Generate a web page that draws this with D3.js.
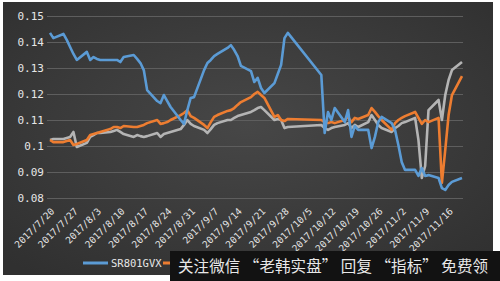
<!DOCTYPE html>
<html><head><meta charset="utf-8">
<script src="https://cdn.jsdelivr.net/npm/d3@7"></script>
<style>html,body{margin:0;padding:0;background:#fff;}svg{display:block;}</style>
</head><body>
<script>
const dates = ["2017-07-20","2017-07-21","2017-07-24","2017-07-25","2017-07-26","2017-07-27","2017-07-28","2017-07-31",
"2017-08-01","2017-08-02","2017-08-03","2017-08-04","2017-08-07","2017-08-08","2017-08-09","2017-08-10","2017-08-11",
"2017-08-14","2017-08-15","2017-08-16","2017-08-17","2017-08-18","2017-08-21","2017-08-22","2017-08-23","2017-08-24","2017-08-25",
"2017-08-28","2017-08-29","2017-08-30","2017-08-31","2017-09-01","2017-09-04","2017-09-05","2017-09-06","2017-09-07","2017-09-08",
"2017-09-11","2017-09-12","2017-09-13","2017-09-14","2017-09-15","2017-09-18","2017-09-19","2017-09-20","2017-09-21","2017-09-22",
"2017-09-25","2017-09-26","2017-09-27","2017-09-28","2017-09-29","2017-10-09","2017-10-10","2017-10-11","2017-10-12","2017-10-13",
"2017-10-16","2017-10-17","2017-10-18","2017-10-19","2017-10-20","2017-10-23","2017-10-24","2017-10-25","2017-10-26","2017-10-27",
"2017-10-30","2017-10-31","2017-11-01","2017-11-02","2017-11-03","2017-11-06","2017-11-07","2017-11-08","2017-11-09","2017-11-10",
"2017-11-13","2017-11-14","2017-11-15","2017-11-16","2017-11-17","2017-11-20"];

const seriesBlue = [0.1435,0.1415,0.1431,0.1408,0.1381,0.1354,0.1331,0.1362,
0.1331,0.1342,0.1335,0.1331,0.1331,0.1331,0.1331,0.1323,0.1342,
0.1350,0.1335,0.1319,0.1292,0.1215,0.1173,0.1165,0.1196,0.1173,0.1150,
0.1100,0.1085,0.1138,0.1185,0.1188,0.1292,0.1319,0.1331,0.1346,0.1354,
0.1377,0.1388,0.1369,0.1346,0.1308,0.1288,0.1246,0.1262,0.1223,0.1204,
0.1242,0.1277,0.1312,0.1415,0.1435,0.1273,0.1050,0.1131,0.1100,0.1146,
0.1092,0.1138,0.1035,0.1077,0.1062,0.1062,0.0992,0.1035,0.1092,0.1112,
0.1088,0.1062,0.1004,0.0938,0.0908,0.0908,0.0885,0.0915,0.0885,0.0888,
0.0877,0.0838,0.0831,0.0850,0.0862,0.0877];

const seriesOrange = [0.1023,0.1015,0.1015,0.1019,0.1023,0.1004,0.1008,0.1023,
0.1042,0.1046,0.1050,0.1054,0.1065,0.1073,0.1073,0.1069,0.1077,
0.1073,0.1073,0.1077,0.1081,0.1088,0.1100,0.1085,0.1088,0.1092,0.1100,
0.1119,0.1127,0.1138,0.1115,0.1108,0.1081,0.1069,0.1092,0.1112,0.1119,
0.1135,0.1138,0.1146,0.1158,0.1169,0.1188,0.1200,0.1208,0.1196,0.1185,
0.1112,0.1119,0.1100,0.1096,0.1104,0.1100,0.1092,0.1088,0.1092,0.1088,
0.1100,0.1112,0.1092,0.1108,0.1104,0.1119,0.1146,0.1131,0.1115,0.1100,
0.1062,0.1088,0.1100,0.1108,0.1115,0.1131,0.1108,0.1085,0.1100,0.1092,
0.1108,0.0858,0.0985,0.1119,0.1196,0.1269];

const seriesGray = [0.1023,0.1027,0.1027,0.1031,0.1035,0.1054,0.0996,0.1012,
0.1035,0.1042,0.1050,0.1050,0.1054,0.1058,0.1062,0.1054,0.1046,
0.1035,0.1042,0.1038,0.1035,0.1038,0.1050,0.1035,0.1046,0.1050,0.1054,
0.1065,0.1081,0.1100,0.1085,0.1077,0.1062,0.1050,0.1065,0.1081,0.1088,
0.1100,0.1100,0.1108,0.1115,0.1119,0.1131,0.1138,0.1146,0.1150,0.1138,
0.1100,0.1104,0.1100,0.1069,0.1073,0.1081,0.1069,0.1062,0.1069,0.1073,
0.1081,0.1088,0.1069,0.1081,0.1073,0.1092,0.1119,0.1100,0.1081,0.1069,
0.1054,0.1069,0.1077,0.1088,0.1092,0.1108,0.1023,0.0877,0.0923,0.1138,
0.1177,0.1100,0.1196,0.1254,0.1292,0.1323];

const yTicks = [0.08,0.09,0.10,0.11,0.12,0.13,0.14,0.15];
const xTickDates = ["2017-07-20","2017-07-27","2017-08-03","2017-08-10","2017-08-17","2017-08-24","2017-08-31",
"2017-09-07","2017-09-14","2017-09-21","2017-09-28","2017-10-05","2017-10-12","2017-10-19","2017-10-26",
"2017-11-02","2017-11-09","2017-11-16"];
const legendNames = ["SR801GVX"];
const colors = ["#5b9bd5","#ed7d31","#b4b4b4"];
const watermark = "关注微信 “老韩实盘” 回复 “指标” 免费领";

const W = 500, H = 281;
const parse = d3.timeParse("%Y-%m-%d");
const svg = d3.select("body").append("svg").attr("width", W).attr("height", H);

const defs = svg.append("defs");
const rg = defs.append("radialGradient").attr("id","bg").attr("cx","50%").attr("cy","45%").attr("r","70%");
rg.append("stop").attr("offset","0%").attr("stop-color","#474747");
rg.append("stop").attr("offset","100%").attr("stop-color","#303030");

svg.append("rect").attr("x",0).attr("y",0).attr("width",W).attr("height",H).attr("fill","#fff");
svg.append("rect").attr("x",3).attr("y",2).attr("width",490).attr("height",273).attr("fill","url(#bg)");

const x = d3.scaleTime().domain([parse("2017-07-20"), parse("2017-11-20")]).range([50, 462]);
const y = d3.scaleLinear().domain([0.08, 0.15]).range([198, 16]);

// gridlines
svg.append("g").selectAll("line").data(yTicks).join("line")
  .attr("x1", 47).attr("x2", 463)
  .attr("y1", d => Math.round(y(d)) + 0.5).attr("y2", d => Math.round(y(d)) + 0.5)
  .attr("stroke", "#5e5e5e").attr("stroke-width", 1);

// y axis labels
const fmtY = d => d3.format(".2f")(d).replace(/0$/, "").replace(/\.$/, "");
svg.append("g").selectAll("text").data(yTicks).join("text")
  .attr("x", 44).attr("y", d => y(d) + 4)
  .attr("text-anchor", "end")
  .attr("fill", "#e6e6e6")
  .style("font-family", "'DejaVu Sans Mono', monospace").style("font-size", "11px")
  .text(d => d === 0.1 ? "0.1" : fmtY(d));

// x axis labels
const fmtX = d => `${d.getFullYear()}/${d.getMonth()+1}/${d.getDate()}`;
svg.append("g").selectAll("text").data(xTickDates.map(parse)).join("text")
  .attr("transform", d => `translate(${x(d)+5},${212}) rotate(-45)`)
  .attr("text-anchor", "end")
  .attr("fill", "#e6e6e6")
  .style("font-family", "'DejaVu Sans Mono', monospace").style("font-size", "9.5px")
  .text(fmtX);

// lines
const parsedDates = dates.map(parse);
const series = [seriesGray, seriesOrange, seriesBlue];
const sColors = [colors[2], colors[1], colors[0]];
const line = d3.line().x((d,i) => x(parsedDates[i])).y(d => y(d));
series.forEach((s, k) => {
  svg.append("path").datum(s).attr("d", line)
    .attr("fill", "none").attr("stroke", sColors[k]).attr("stroke-width", 2.6)
    .attr("stroke-linejoin", "round");
});

// legend
const lg = svg.append("g");
lg.append("line").attr("x1", 83).attr("x2", 108).attr("y1", 263).attr("y2", 263)
  .attr("stroke", colors[0]).attr("stroke-width", 3);
lg.append("text").attr("x", 111).attr("y", 267).attr("fill", "#e6e6e6")
  .style("font-family", "'DejaVu Sans Mono', monospace").style("font-size", "10.5px")
  .text(legendNames[0]);
lg.append("line").attr("x1", 163).attr("x2", 188).attr("y1", 263).attr("y2", 263)
  .attr("stroke", colors[1]).attr("stroke-width", 3);

// watermark banner
svg.append("rect").attr("x", 170).attr("y", 251).attr("width", 330).attr("height", 30).attr("fill", "#121212");
svg.append("text").attr("x", 178).attr("y", 272).attr("fill", "#e8e8e8")
  .attr("textLength", 310).attr("lengthAdjust", "spacing")
  .style("font-family", "'Noto Sans CJK SC', sans-serif").style("font-size", "15.5px")
  .text(watermark);
</script>
</body></html>
